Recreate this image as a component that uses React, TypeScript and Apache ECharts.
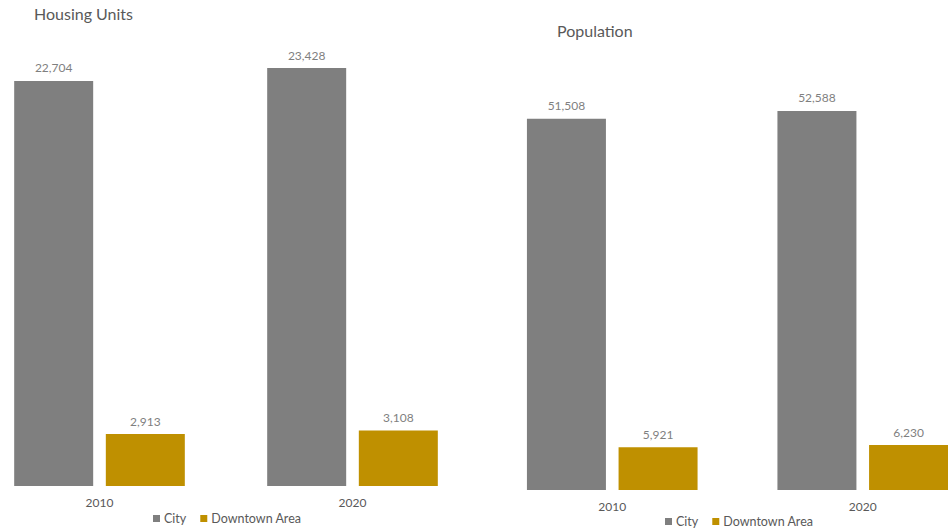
import React, { useEffect, useRef } from "react";
import * as echarts from "echarts";

const years = ["2010", "2020"];
const housingCity = [22704, 23428];
const housingDowntown = [2913, 3108];
const populationCity = [51508, 52588];
const populationDowntown = [5921, 6230];
const seriesNames = ["City", "Downtown Area"];
const titles = ["Housing Units", "Population"];

const GRAY = "#7F7F7F";
const GOLD = "#BF9000";
const FONT = "Lato, 'Open Sans', sans-serif";

export default function App() {
  const ref = useRef<HTMLDivElement>(null);
  useEffect(() => {
    if (!ref.current) return;
    const chart = echarts.init(ref.current, null, { renderer: "svg" });
    const label = {
      show: true,
      position: "top",
      distance: 7,
      color: "#7F7F7F",
      fontSize: 12,
      fontFamily: FONT,
      formatter: (p: any) => Number(p.value).toLocaleString("en-US"),
    };
    const bar = (name: string, data: number[], color: string, idx: number) => ({
      type: "bar",
      name,
      data,
      xAxisIndex: idx,
      yAxisIndex: idx,
      barWidth: 79,
      barGap: "16%",
      itemStyle: { color },
      label,
    });
    const legendBase = {
      icon: "rect",
      itemWidth: 7,
      itemHeight: 7,
      itemGap: 14,
      padding: 0,
      textStyle: { color: "#595959", fontSize: 12.5, fontFamily: FONT, padding: [0, 0, 0, -1] },
      data: seriesNames,
      selectedMode: false,
    };
    const xAxisBase = {
      type: "category",
      data: years,
      axisLine: { show: false },
      axisTick: { show: false },
      axisLabel: { color: "#595959", fontSize: 12, fontFamily: FONT, margin: 10 },
    };
    chart.setOption({
      animation: false,
      color: [GRAY, GOLD],
      title: [
        {
          text: titles[0],
          left: 29,
          top: 0,
          textStyle: { color: "#595959", fontSize: 16, fontWeight: "normal", fontFamily: FONT },
        },
        {
          text: titles[1],
          left: 552,
          top: 17,
          textStyle: { color: "#595959", fontSize: 16, fontWeight: "normal", fontFamily: FONT },
        },
      ],
      legend: [
        { ...legendBase, left: 153, top: 512 },
        { ...legendBase, left: 665, top: 515 },
      ],
      grid: [
        { left: -27, top: 40, width: 506, height: 446, outerBoundsMode: "none", containLabel: false },
        { left: 487, top: 57.5, width: 501, height: 432.5, outerBoundsMode: "none", containLabel: false },
      ],
      xAxis: [
        { ...xAxisBase, gridIndex: 0 },
        { ...xAxisBase, gridIndex: 1 },
      ],
      yAxis: [
        { type: "value", gridIndex: 0, min: 0, max: 25000, show: false, splitLine: { show: false } },
        { type: "value", gridIndex: 1, min: 0, max: 60000, show: false, splitLine: { show: false } },
      ],
      series: [
        bar(seriesNames[0], housingCity, GRAY, 0),
        bar(seriesNames[1], housingDowntown, GOLD, 0),
        bar(seriesNames[0], populationCity, GRAY, 1),
        bar(seriesNames[1], populationDowntown, GOLD, 1),
      ],
    });
    return () => chart.dispose();
  }, []);
  return (
    <div
      ref={ref}
      style={{ position: "fixed", left: 0, top: 0, width: 948, height: 528, background: "#fff" }}
    />
  );
}
